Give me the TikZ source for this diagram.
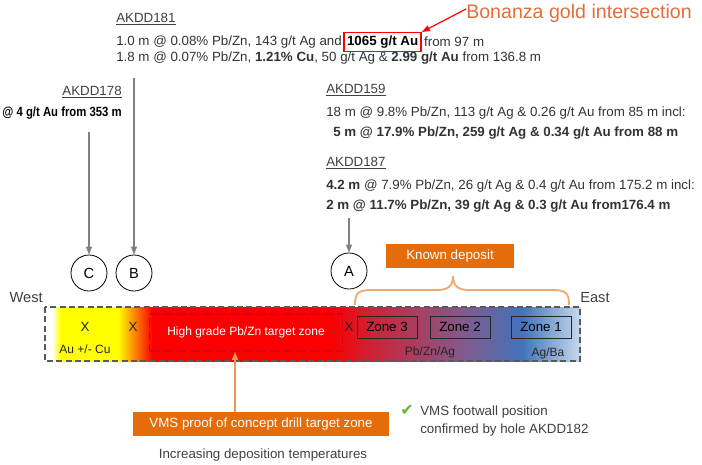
\documentclass[tikz,border=0pt]{standalone}
\usepackage{fontspec}
\setmainfont{Liberation Sans}
\newfontfamily\symbolfont{DejaVu Sans}
\usepackage{tikz}
\usepackage{xcolor}
\usetikzlibrary{arrows.meta}
\usetikzlibrary{positioning}

\definecolor{boxorange}{RGB}{228,108,10}
\definecolor{bonanzaorange}{RGB}{226,110,60}
\definecolor{braceorange}{RGB}{240,170,110}
\definecolor{arroworange}{RGB}{238,150,80}
\definecolor{zyellow}{RGB}{255,255,0}
\definecolor{zred}{RGB}{250,0,0}
\definecolor{zcrimson}{RGB}{205,35,55}
\definecolor{zmauve}{RGB}{130,90,140}
\definecolor{zblue}{RGB}{65,115,185}
\definecolor{zpale}{RGB}{200,218,236}
\definecolor{tgtred}{RGB}{220,0,20}
\definecolor{checkgreen}{RGB}{100,180,60}

\tikzset{
  body/.style={anchor=west, inner sep=0pt, text=black!80, font=\fontsize{10}{12}\selectfont},
  holeid/.style={anchor=west, inner sep=0pt, text=black!75, font=\fontsize{10}{12}\selectfont},
  hole/.style={circle, draw=black, line width=0.6pt, minimum size=27pt, inner sep=0pt, font=\fontsize{11}{12}\selectfont},
  drillpath/.style={draw=black!50, line width=0.9pt, -{Triangle[length=6pt,width=4.5pt]}},
  goldbox/.style={draw=red, line width=1.1pt, inner xsep=2.2pt, minimum height=14pt, inner ysep=0pt, text=black, font=\bfseries\fontsize{10}{12}\selectfont},
  tagbox/.style={fill=boxorange, text=white, inner sep=0pt, font=\fontsize{10}{12}\selectfont},
  zonebox/.style={draw=black!85, line width=0.6pt, minimum width=45pt, minimum height=16.5pt, inner sep=0pt, font=\fontsize{10}{12}\selectfont},
  xmark/.style={inner sep=0pt, text=black!85, font=\fontsize{10}{12}\selectfont},
  minor/.style={inner sep=0pt, text=black!85, font=\fontsize{9}{11}\selectfont},
  tgtzone/.style={draw=tgtred, line width=1.3pt, dash pattern=on 7pt off 3pt, minimum width=144.75pt, minimum height=27.75pt, inner sep=0pt, text=white, font=\fontsize{9}{11}\selectfont},
  tgtarrow/.style={draw=arroworange, line width=1.1pt, -{Triangle[length=6pt,width=4.5pt]}}
}

\begin{document}
\begin{tikzpicture}[x=0.75pt,y=0.75pt,yscale=-1,xscale=1]
\useasboundingbox (0,0) rectangle (702,464);

% hole AKDD181
\node[holeid] (id181) at (116,19) {\underline{AKDD181}};
\node[body] (r181a) at (116,42) {1.0 m @ 0.08\% Pb/Zn, 143 g/t Ag and};
\node[goldbox, right=1pt of r181a] (gold) {1065 g/t Au};
\node[body, right=1.5pt of gold] (r181b) {from 97 m};
\node[body] (r181c) at (116,58) {1.8 m @ 0.07\% Pb/Zn, \textbf{1.21\% Cu}, 50 g/t Ag \& \textbf{2.99 g/t Au} from 136.8 m};

% callout
\node[anchor=west, inner sep=0pt, text=bonanzaorange, font=\fontsize{14.7}{16}\selectfont] (bonanza) at (466,13) {Bonanza gold intersection};
\draw[red, line width=0.9pt, -{Triangle[length=6pt,width=4.5pt]}] ([yshift=-3pt]bonanza.west) -- (gold.north east);

% hole AKDD178
\node[holeid, anchor=east] (id178) at (122,92) {\underline{AKDD178}};
\node[anchor=east, inner sep=0pt, text=black, font=\bfseries\fontsize{10}{12}\selectfont] (r178) at (122,113) {\scalebox{0.85}[1]{@ 4 g/t Au from 353 m}};

% holes AKDD159 / AKDD187
\node[holeid] (id159) at (326,90) {\underline{AKDD159}};
\node[body] (r159a) at (326,113) {18 m @ 9.8\% Pb/Zn, 113 g/t Ag \& 0.26 g/t Au from 85 m incl:};
\node[body] (r159b) at (333,133) {\textbf{5 m @ 17.9\% Pb/Zn, 259 g/t Ag \& 0.34 g/t Au from 88 m}};
\node[holeid] (id187) at (326,163) {\underline{AKDD187}};
\node[body] (r187a) at (326,186) {\textbf{4.2 m} @ 7.9\% Pb/Zn, 26 g/t Ag \& 0.4 g/t Au from 175.2 m incl:};
\node[body] (r187b) at (326,206) {\textbf{2 m @ 11.7\% Pb/Zn, 39 g/t Ag \& 0.3 g/t Au from176.4 m}};

% drill holes
\node[hole] (holeC) at (89,273) {C};
\node[hole] (holeB) at (134,273) {B};
\node[hole] (holeA) at (349,271) {A};
\coordinate (c0) at (89,132);
\coordinate (b0) at (134,78);
\coordinate (a0) at (349,218);
\draw[drillpath] (c0) -- (holeC);
\draw[drillpath] (b0) -- (holeB);
\draw[drillpath] (a0) -- (holeA);

% known deposit + brace
\node[tagbox, minimum width=96pt, minimum height=18pt] (known) at (450,256) {Known deposit};
\draw[braceorange, line width=1.4pt] (355,305) .. controls (355,293) and (358,290) .. (372,290) -- (437,290) .. controls (449,290) and (453,285) .. (453,276) .. controls (453,285) and (457,290) .. (469,290) -- (552,290) .. controls (566,290) and (569,293) .. (569,305);

\node[anchor=east, inner sep=0pt, text=black!75, font=\fontsize{11}{12}\selectfont] (west) at (43,298) {West};
\node[anchor=west, inner sep=0pt, text=black!75, font=\fontsize{11}{12}\selectfont] (east) at (580,298) {East};

%Shape: section band
\foreach \xa/\xb/\ca/\cb in {52/60/white/zyellow, 60/118/zyellow/zyellow, 118/152/zyellow/zred, 152/330/zred/zred, 330/372/zred/zcrimson, 372/462/zcrimson/zmauve, 462/522/zmauve/zblue, 522/580/zblue/zpale}
  \shade[left color=\ca, right color=\cb] (\xa,307) rectangle (\xb+0.6,361);
\draw[black!65, line width=0.8pt, dash pattern=on 4.5pt off 2.5pt] (45,307) rectangle (580,361);

\node[xmark] (x1) at (85,327) {X};
\node[minor] (au) at (85,349) {Au +/- Cu};
\node[xmark] (x2) at (133,327) {X};
\node[tgtzone] (target) at (246,332.5) {High grade Pb/Zn target zone};
\node[xmark] (x3) at (349,327) {X};
\node[zonebox] (zone3) at (387,327) {Zone 3};
\node[zonebox] (zone2) at (460,327) {Zone 2};
\node[zonebox] (zone1) at (541,327) {Zone 1};
\node[minor] (pbznag) at (430,352) {Pb/Zn/Ag};
\node[minor] (agba) at (548,353) {Ag/Ba};

% proof of concept target
\node[tagbox, minimum width=192pt, minimum height=18pt] (vms) at (261,424) {VMS proof of concept drill target zone};
\draw[tgtarrow] ([xshift=-19.5pt]vms.north) -- ([xshift=-19.5pt]vms.north |- target.south);

\node[inner sep=0pt, text=black!75, font=\fontsize{10}{12}\selectfont] (temp) at (263,455) {Increasing deposition temperatures};

\node[inner sep=0pt, text=checkgreen, font=\symbolfont\fontsize{12}{12}\selectfont] (tick) at (407,410) {✔};
\node[anchor=north west, align=left, inner sep=0pt, text=black!75, font=\fontsize{10}{13.5}\selectfont] (footwall) at (420,406) {VMS footwall position\\confirmed by hole AKDD182};

\end{tikzpicture}
\end{document}
